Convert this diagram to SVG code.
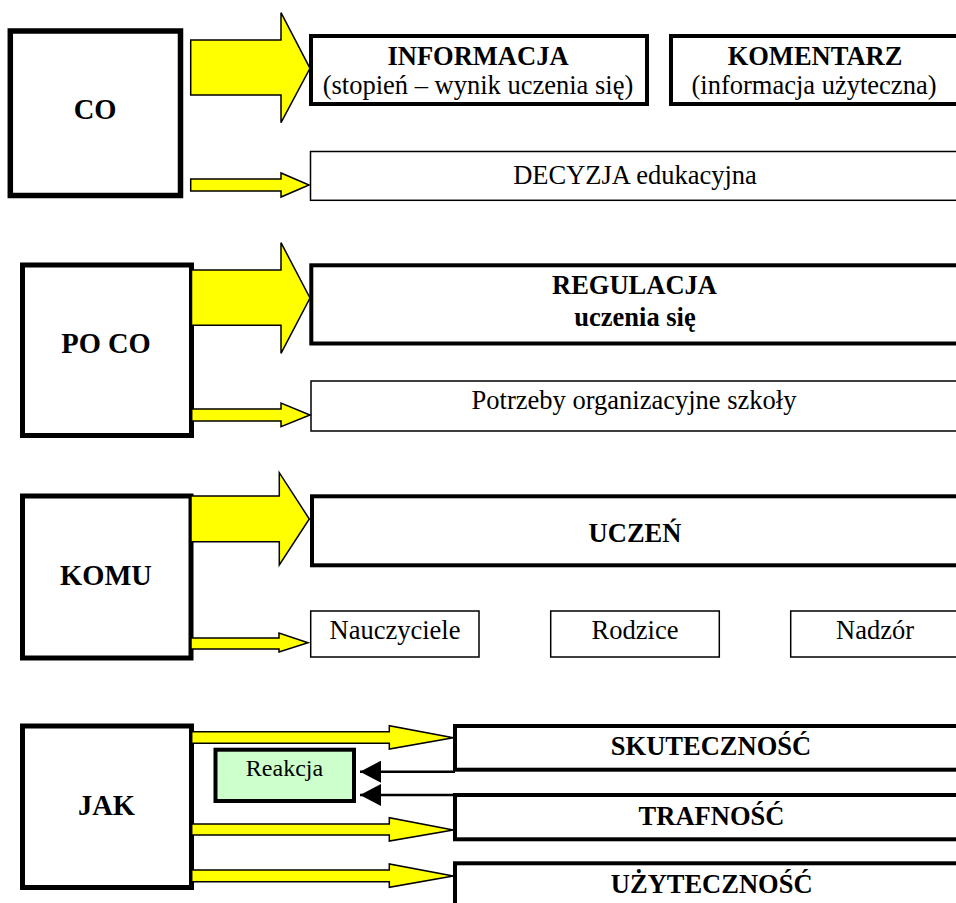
<svg xmlns="http://www.w3.org/2000/svg" width="956" height="903" viewBox="0 0 956 903">
<style>
.bg{fill:#fff}
.main{fill:#fff;stroke:#000;stroke-width:5}
.thick{fill:#fff;stroke:#000;stroke-width:4}
.thin{fill:#fff;stroke:#000;stroke-width:1.5}
.react{fill:#ccffcc;stroke:#000;stroke-width:4}
.arr{fill:#ffff00;stroke:#000;stroke-width:1.5;stroke-linejoin:miter}
.bl{stroke:#000;stroke-width:2.5;fill:none}
text{font-family:"Liberation Serif","Times New Roman",serif;fill:#000;text-anchor:middle}
.lab{font-size:28.5px;font-weight:bold}
.b{font-size:26.5px;font-weight:bold}
.r{font-size:26.5px}
.s{font-size:24px}
</style>
<defs>
<marker id="ah" markerUnits="userSpaceOnUse" markerWidth="22" markerHeight="22" refX="21" refY="11" orient="auto">
<path d="M0,0 L21,11 L0,22 Z" fill="#000"/>
</marker>
</defs>
<rect class="bg" x="0" y="0" width="956" height="903"/>

<g id="co">
<rect class="main" x="10.3" y="31" width="170.2" height="164.5" style="stroke-width:5.5"/>
<text class="lab" x="95" y="119">CO</text>
</g>
<g id="informacja">
<rect class="thick" x="311" y="36" width="336" height="68"/>
<text class="b" x="478" y="65">INFORMACJA</text>
<text class="r" x="478" y="94">(stopień – wynik uczenia się)</text>
</g>
<g id="komentarz">
<rect class="thick" x="671" y="36" width="320" height="68"/>
<text class="b" x="815" y="65">KOMENTARZ</text>
<text class="r" x="814" y="94">(informacja użyteczna)</text>
</g>
<g id="decyzja">
<rect class="thin" x="310.5" y="151.5" width="680" height="48.8"/>
<text class="r" x="635" y="184">DECYZJA edukacyjna</text>
</g>

<g id="poco">
<rect class="main" x="22.5" y="265" width="169" height="170.5"/>
<text class="lab" x="106" y="353">PO CO</text>
</g>
<g id="regulacja">
<rect class="thick" x="311.3" y="265.3" width="680" height="78.2"/>
<text class="b" x="634.5" y="294">REGULACJA</text>
<text class="b" x="635" y="326">uczenia się</text>
</g>
<g id="potrzeby">
<rect class="thin" x="311" y="381" width="680" height="50"/>
<text class="r" x="634" y="409">Potrzeby organizacyjne szkoły</text>
</g>

<g id="komu">
<rect class="main" x="22.5" y="496" width="168.5" height="162"/>
<text class="lab" x="106" y="585">KOMU</text>
</g>
<g id="uczen">
<rect class="thick" x="312" y="496.3" width="680" height="69"/>
<text class="b" x="635" y="542">UCZEŃ</text>
</g>
<g id="nauczyciele">
<rect class="thin" x="310.7" y="611" width="168.3" height="46"/>
<text class="r" x="395" y="639">Nauczyciele</text>
</g>
<g id="rodzice">
<rect class="thin" x="550.7" y="611" width="168.6" height="46"/>
<text class="r" x="635" y="639">Rodzice</text>
</g>
<g id="nadzor">
<rect class="thin" x="790.7" y="611" width="200" height="46"/>
<text class="r" x="875" y="639">Nadzór</text>
</g>

<g id="jak">
<rect class="main" x="22.5" y="726" width="169" height="161.5"/>
<text class="lab" x="106.5" y="815">JAK</text>
</g>
<g id="reakcja">
<rect class="react" x="215.5" y="749.7" width="138.5" height="51.3"/>
<text class="s" x="284.5" y="776">Reakcja</text>
</g>
<g id="skutecznosc">
<rect class="thick" x="455" y="726" width="540" height="43.7"/>
<text class="b" x="711" y="755">SKUTECZNOŚĆ</text>
</g>
<g id="trafnosc">
<rect class="thick" x="455" y="795" width="540" height="44.3"/>
<text class="b" x="711.5" y="825">TRAFNOŚĆ</text>
</g>
<g id="uzytecznosc">
<rect class="thick" x="455" y="863.3" width="540" height="60"/>
<text class="b" x="711.7" y="893">UŻYTECZNOŚĆ</text>
</g>

<g id="connectors">
<polygon class="arr" points="190.7,40 281,40 281,12.7 310,68.3 281,122.7 281,95 190.7,95"/>
<polygon class="arr" points="190.7,179 281,179 281,173 309,185 281,197 281,191 190.7,191"/>
<polygon class="arr" points="191.5,270 281,270 281,242.7 310,298 281,353.3 281,325.3 191.5,325.3"/>
<polygon class="arr" points="191.7,409 281,409 281,403 310,415 281,426.7 281,421 191.7,421"/>
<polygon class="arr" points="191,496 279.3,496 279.3,472.7 309.3,519 279.3,565 279.3,541.7 191,541.7"/>
<polygon class="arr" points="191,638 279,638 279,633 308,642.7 279,652 279,649 191,649"/>
<polygon class="arr" points="191.7,731.7 389.3,731.7 389.3,725.7 453.3,737.7 389.3,749 389.3,743.3 191.7,743.3"/>
<polygon class="arr" points="191.7,824 389.3,824 389.3,817.7 453.3,830 389.3,841 389.3,835 191.7,835"/>
<polygon class="arr" points="191.7,870 389.3,870 389.3,864 453.3,876 389.3,887.3 389.3,881.7 191.7,881.7"/>
<line class="bl" x1="455" y1="771.7" x2="360" y2="771.7" marker-end="url(#ah)"/>
<line class="bl" x1="455" y1="795" x2="360" y2="795" marker-end="url(#ah)"/>
</g>
</svg>
